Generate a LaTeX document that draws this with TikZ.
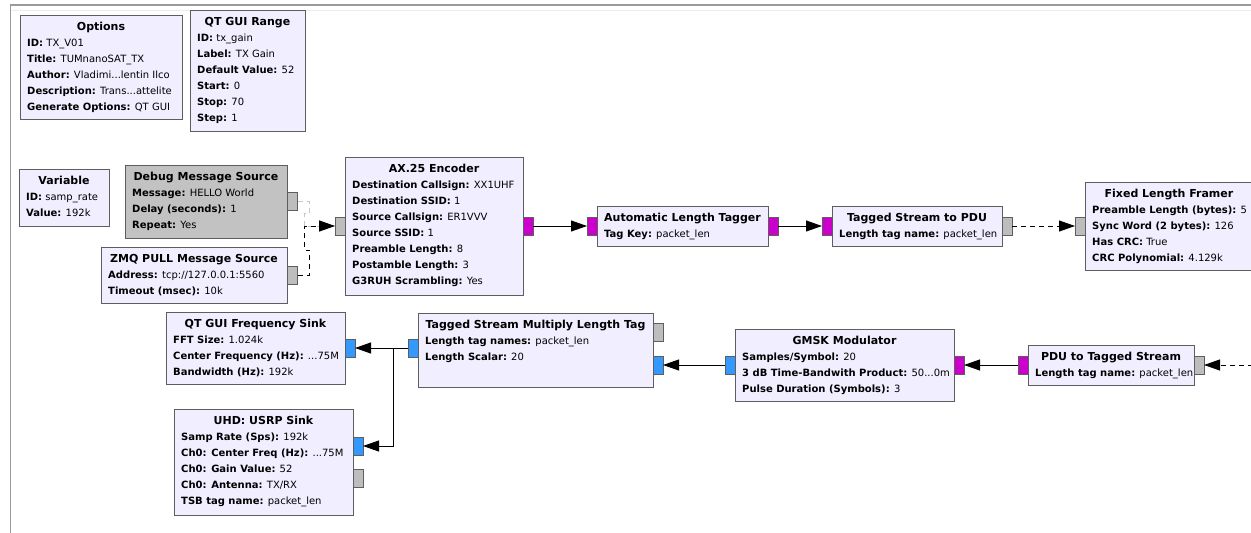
\documentclass[tikz,border=0pt]{standalone}
\usepackage{fontspec}
\setmainfont{DejaVu Sans}
\usetikzlibrary{calc,arrows.meta}

\definecolor{blkfill}{HTML}{F1EEFF}
\definecolor{blkdis}{HTML}{C2C2C2}
\definecolor{blkline}{HTML}{5E5E5E}
\definecolor{pbyte}{HTML}{CC00CC}
\definecolor{pcplx}{HTML}{3399FF}
\definecolor{pmsg}{HTML}{BDBDBD}
\definecolor{frameline}{HTML}{9A9A9A}

% key: value line of a block
\newcommand\pkv[2]{\textbf{#1:} #2}

% block: name, left, top, width, height, extra style, title, parameter lines
\newcommand\grcblk[8]{%
  \node[blk,#6,anchor=north west,minimum width=#4pt,minimum height=#5pt] (#1) at (#2,#3) {};
  \node[ttl] (#1-t) at ($(#1.north)+(0,11)$) {#7};
  \foreach \p [count=\i] in {#8}{%
    \node[prm] (#1-p\i) at ($(#1.north west)+(7,11.5+16*\i)$) {\p};}%
}

\begin{document}
\begin{tikzpicture}[x=1pt,y=-1pt,
  blk/.style={draw=blkline,fill=blkfill,line width=0.9pt,inner sep=0pt,outer sep=0pt},
  disabled/.style={fill=blkdis},
  ttl/.style={font=\fontsize{11}{13}\selectfont\bfseries,inner sep=0pt,text height=8pt,text depth=0pt},
  prm/.style={font=\fontsize{10}{12}\selectfont,inner sep=0pt,anchor=west,text height=7.3pt,text depth=0pt},
  port/.style={draw=blkline,line width=0.8pt,minimum width=10pt,minimum height=18pt,inner sep=0pt,outer sep=0pt},
  conn/.style={line width=0.9pt,-{Triangle[length=16pt,width=11pt]}},
  msgconn/.style={conn,dash pattern=on 5pt off 4pt},
]
\useasboundingbox (0,0) rectangle (1251,533);
\clip (0,0) rectangle (1251,533);
\fill[white] (0,0) rectangle (1251,533);

% canvas frame
\draw[gray!15,line width=1pt] (10,10) -- (1251,10);
\draw[frameline,line width=1.5pt] (10,5) -- (1251,5);
\draw[frameline,line width=1.2pt] (10.5,5) -- (10.5,533);

% variables and options
\grcblk{opt}{20}{15}{162}{104}{}{Options}{%
  \pkv{ID}{TX\_V01},\pkv{Title}{TUMnanoSAT\_TX},\pkv{Author}{Vladimi...lentin Ilco},
  \pkv{Description}{Trans...attelite},\pkv{Generate Options}{QT GUI}}
\grcblk{rng}{190}{10}{115}{121}{}{QT GUI Range}{%
  \pkv{ID}{tx\_gain},\pkv{Label}{TX Gain},\pkv{Default Value}{52},
  \pkv{Start}{0},\pkv{Stop}{70},\pkv{Step}{1}}
\grcblk{var}{19}{169}{90}{57}{}{Variable}{%
  \pkv{ID}{samp\_rate},\pkv{Value}{192k}}

% message sources
\grcblk{dbg}{125}{165}{162}{73}{disabled}{Debug Message Source}{%
  \pkv{Message}{HELLO World},\pkv{Delay (seconds)}{1},\pkv{Repeat}{Yes}}
\node[port,fill=pmsg] (dbg-o) at (292.5,201.5) {};
\grcblk{zmq}{101}{247}{186}{56}{}{ZMQ PULL Message Source}{%
  \pkv{Address}{tcp://127.0.0.1:5560},\pkv{Timeout (msec)}{10k}}
\node[port,fill=pmsg] (zmq-o) at (292.5,275) {};

% upper chain
\grcblk{ax}{345}{157}{178}{138}{}{AX.25 Encoder}{%
  \pkv{Destination Callsign}{XX1UHF},\pkv{Destination SSID}{1},
  \pkv{Source Callsign}{ER1VVV},\pkv{Source SSID}{1},
  \pkv{Preamble Length}{8},\pkv{Postamble Length}{3},
  \pkv{G3RUH Scrambling}{Yes}}
\node[port,fill=pmsg] (ax-i) at (340,226) {};
\node[port,fill=pbyte] (ax-o) at (528,226) {};

\grcblk{alt}{597}{206}{171}{40}{}{Automatic Length Tagger}{%
  \pkv{Tag Key}{packet\_len}}
\node[port,fill=pbyte] (alt-i) at (592,226) {};
\node[port,fill=pbyte] (alt-o) at (773,226) {};

\grcblk{tsp}{832}{206}{170}{40}{}{Tagged Stream to PDU}{%
  \pkv{Length tag name}{packet\_len}}
\node[port,fill=pbyte] (tsp-i) at (827,226) {};
\node[port,fill=pmsg] (tsp-o) at (1007,226) {};

\grcblk{flf}{1085}{182}{168}{88}{}{Fixed Length Framer}{%
  \pkv{Preamble Length (bytes)}{5},\pkv{Sync Word (2 bytes)}{126},
  \pkv{Has CRC}{True},\pkv{CRC Polynomial}{4.129k}}
\node[port,fill=pmsg] (flf-i) at (1080,226) {};

% lower chain
\grcblk{qfs}{166}{312}{179}{72}{}{QT GUI Frequency Sink}{%
  \pkv{FFT Size}{1.024k},\pkv{Center Frequency (Hz)}{...75M},\pkv{Bandwidth (Hz)}{192k}}
\node[port,fill=pcplx] (qfs-i) at (350,348) {};

\grcblk{uhd}{174}{409}{179}{106}{}{UHD: USRP Sink}{%
  \pkv{Samp Rate (Sps)}{192k},\pkv{Ch0: Center Freq (Hz)}{...75M},
  \pkv{Ch0: Gain Value}{52},\pkv{Ch0: Antenna}{TX/RX},\pkv{TSB tag name}{packet\_len}}
\node[port,fill=pcplx] (uhd-i) at (358,446) {};
\node[port,fill=pmsg] (uhd-m) at (358,478) {};

\grcblk{tsm}{418}{313}{235}{74}{}{Tagged Stream Multiply Length Tag}{%
  \pkv{Length tag names}{packet\_len},\pkv{Length Scalar}{20}}
\node[port,fill=pcplx] (tsm-o) at (413,348) {};
\node[port,fill=pmsg] (tsm-m) at (658,332) {};
\node[port,fill=pcplx] (tsm-i) at (658,365) {};

\grcblk{gm}{735}{329}{219}{72}{}{GMSK Modulator}{%
  \pkv{Samples/Symbol}{20},\pkv{3 dB Time-Bandwith Product}{50...0m},
  \pkv{Pulse Duration (Symbols)}{3}}
\node[port,fill=pcplx] (gm-o) at (730,365) {};
\node[port,fill=pbyte] (gm-i) at (959,365) {};

\grcblk{pts}{1028}{345}{166}{40}{}{PDU to Tagged Stream}{%
  \pkv{Length tag name}{packet\_len}}
\node[port,fill=pbyte] (pts-o) at (1023,365) {};
\node[port,fill=pmsg] (pts-i) at (1199,365) {};
\coordinate (offright) at (1262,365);

% connections
\draw[msgconn,draw=gray!45] (dbg-o.east) -- ++(12,0) -- ++(0,11.5) -- ++(-5,0) |- (ax-i.west);
\draw[msgconn] (zmq-o.east) -- ++(12,0) -- ++(0,-25) -- ++(-5,0) |- (ax-i.west);
\draw[conn] (ax-o.east) -- (alt-i.west);
\draw[conn] (alt-o.east) -- (tsp-i.west);
\draw[msgconn] (tsp-o.east) -- (flf-i.west);

\draw[msgconn] (offright) -- (pts-i.east);
\draw[conn] (pts-o.west) -- (gm-i.east);
\draw[conn] (gm-o.west) -- (tsm-i.east);
\draw[conn] (tsm-o.west) -- (qfs-i.east);
\draw[conn] (tsm-o.west) -- ++(-15,0) |- (uhd-i.east);
\end{tikzpicture}
\end{document}
